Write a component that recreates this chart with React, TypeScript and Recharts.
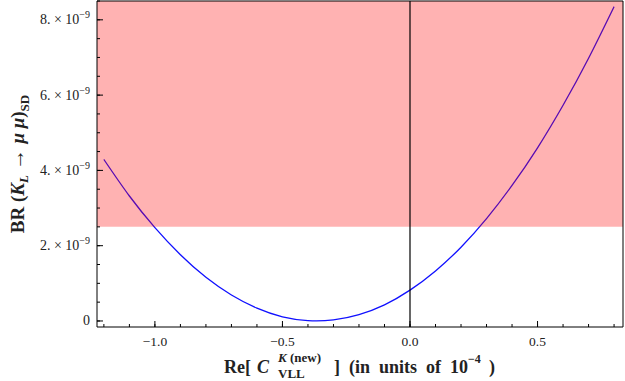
import React from "react";
import { LineChart, Line, XAxis, YAxis, ReferenceArea, ReferenceLine } from "recharts";

// Re[C_VLL^K(new)] in units of 1e-4
const cvll = [-1.2, -1.1, -1.0, -0.9, -0.8, -0.7, -0.6, -0.5, -0.4, -0.3, -0.2, -0.1, 0.0, 0.1, 0.2, 0.3, 0.4, 0.5, 0.6, 0.7, 0.8];
// BR(K_L -> mu mu)_SD in units of 1e-9
const brSD = [4.29, 3.32, 2.48, 1.76, 1.16, 0.69, 0.34, 0.11, 0.01, 0.03, 0.17, 0.43, 0.82, 1.33, 1.96, 2.72, 3.6, 4.6, 5.73, 6.98, 8.35];

const xTicks = [-1.2, -1.1, -1.0, -0.9, -0.8, -0.7, -0.6, -0.5, -0.4, -0.3, -0.2, -0.1, 0.0, 0.1, 0.2, 0.3, 0.4, 0.5, 0.6, 0.7, 0.8];
const xMajor = [-1.0, -0.5, 0.0, 0.5];
const yTicks = [0, 0.5, 1, 1.5, 2, 2.5, 3, 3.5, 4, 4.5, 5, 5.5, 6, 6.5, 7, 7.5, 8, 8.5];
const yMajor = [0, 2, 4, 6, 8];
const bound = 2.5; // experimental upper bound, 1e-9

const data = cvll.map((x, i) => ({ x, br: brSD[i] }));

const FONT = "'Liberation Serif', 'DejaVu Serif', serif";
const X_DOMAIN: [number, number] = [-1.227, 0.835];
const Y_DOMAIN: [number, number] = [-0.16, 8.5];

const W = 625;
const H = 381;
const TICK = 3; // minor tick length, drawn inward by recharts

const isMajor = (v: number, majors: number[]) => majors.some((m) => Math.abs(m - v) < 1e-6);
const fmtX = (v: number) => (Math.abs(v) < 1e-9 ? "0.0" : v < 0 ? "\u2212" + Math.abs(v).toFixed(1) : v.toFixed(1));

const frame = { stroke: "#000", strokeWidth: 1 };

// tick labels only; major ticks get an extra inward stub
function BottomTick({ x, y, payload }: any) {
  const major = isMajor(payload.value, xMajor);
  return (
    <g>
      {major && <line x1={x} x2={x} y1={y} y2={y - 6} stroke="#000" strokeWidth={1} />}
      {major && (
        <text x={x} y={y + 19} textAnchor="middle" fontSize={13.5} fontFamily={FONT} fill="#222">
          {fmtX(payload.value)}
        </text>
      )}
    </g>
  );
}

function LeftTick({ x, y, payload }: any) {
  const v = payload.value;
  if (!isMajor(v, yMajor)) return <g />;
  return (
    <g>
      <line x1={x} x2={x + 6} y1={y} y2={y} stroke="#000" strokeWidth={1} />
      <text x={x - 7} y={y + 4.5} textAnchor="end" fontSize={14} fontFamily={FONT} fill="#222">
        {v === 0 ? (
          "0"
        ) : (
          <>
            {`${v}. \u00d7 10`}
            <tspan fontSize={10} dy={-6}>{"\u22129"}</tspan>
          </>
        )}
      </text>
    </g>
  );
}

function XLabel() {
  const base = 373;
  const t = { fontFamily: FONT, fontWeight: 700, fill: "#222" } as const;
  return (
    <g>
      <text x={224} y={base} fontSize={18} {...t}>Re[</text>
      <text x={257} y={base} fontSize={18} fontStyle="italic" {...t}>C</text>
      <text x={278} y={base - 11} fontSize={13} {...t}>
        <tspan fontStyle="italic">K</tspan> (new)
      </text>
      <text x={278} y={base + 5} fontSize={13} {...t}>VLL</text>
      <text x={334} y={base} fontSize={18} {...t} xmlSpace="preserve">
        {"]  (in  units  of  10"}
      </text>
      <text x={468} y={base - 10} fontSize={12} {...t}>{"\u22124"}</text>
      <text x={489} y={base} fontSize={18} {...t}>)</text>
    </g>
  );
}

function YLabel() {
  return (
    <text
      transform="rotate(-90)"
      x={-164}
      y={24}
      textAnchor="middle"
      fontSize={19}
      fontWeight={700}
      fontFamily={FONT}
      fill="#222"
      xmlSpace="preserve"
    >
      {"BR ("}
      <tspan fontStyle="italic">K</tspan>
      <tspan fontStyle="italic" fontSize={13} dy={4}>L</tspan>
      <tspan dy={-4} fontSize={21}>{" \u2192 "}</tspan>
      <tspan fontStyle="italic">{"\u03bc \u03bc"}</tspan>
      {")"}
      <tspan fontSize={13} dy={5}>SD</tspan>
    </text>
  );
}

export default function App() {
  return (
    <div style={{ position: "fixed", left: 0, top: 0, background: "#fff" }}>
      <LineChart width={W} height={H} data={data} margin={{ top: 0, right: 1, left: 0, bottom: 0 }}>
        <XAxis
          dataKey="x"
          type="number"
          domain={X_DOMAIN}
          allowDataOverflow
          ticks={xTicks}
          interval={0}
          tickSize={-TICK}
          tickMargin={TICK}
          tickLine={frame}
          tick={<BottomTick />}
          axisLine={frame}
          height={54}
          label={<XLabel />}
        />
        <XAxis
          xAxisId="top"
          orientation="top"
          dataKey="x"
          type="number"
          domain={X_DOMAIN}
          allowDataOverflow
          ticks={xTicks}
          interval={0}
          tickSize={-TICK}
          tickLine={frame}
          tick={false}
          axisLine={frame}
          height={1}
        />
        <YAxis
          type="number"
          domain={Y_DOMAIN}
          allowDataOverflow
          ticks={yTicks}
          interval={0}
          tickSize={-TICK}
          tickMargin={TICK}
          tickLine={frame}
          tick={<LeftTick />}
          axisLine={frame}
          width={97}
          label={<YLabel />}
        />
        <YAxis
          yAxisId="right"
          orientation="right"
          type="number"
          domain={Y_DOMAIN}
          allowDataOverflow
          ticks={yTicks}
          interval={0}
          tickSize={-TICK}
          tickLine={frame}
          tick={false}
          axisLine={frame}
          width={1}
        />
        <Line
          type="natural"
          dataKey="br"
          stroke="#1010ff"
          strokeWidth={1.3}
          dot={false}
          activeDot={false}
          isAnimationActive={false}
        />
        {/* invisible copy so the top/right frame axes get a scale */}
        <Line
          xAxisId="top"
          yAxisId="right"
          dataKey="br"
          stroke="none"
          dot={false}
          activeDot={false}
          legendType="none"
          isAnimationActive={false}
        />
        <ReferenceArea
          y1={bound}
          y2={Y_DOMAIN[1]}
          x1={X_DOMAIN[0]}
          x2={X_DOMAIN[1]}
          fill="#ff0000"
          fillOpacity={0.3}
          stroke="none"
          ifOverflow="hidden"
          zIndex={450}
        />
        <ReferenceLine x={0} stroke="#000" strokeWidth={1.2} zIndex={460} />
      </LineChart>
    </div>
  );
}
